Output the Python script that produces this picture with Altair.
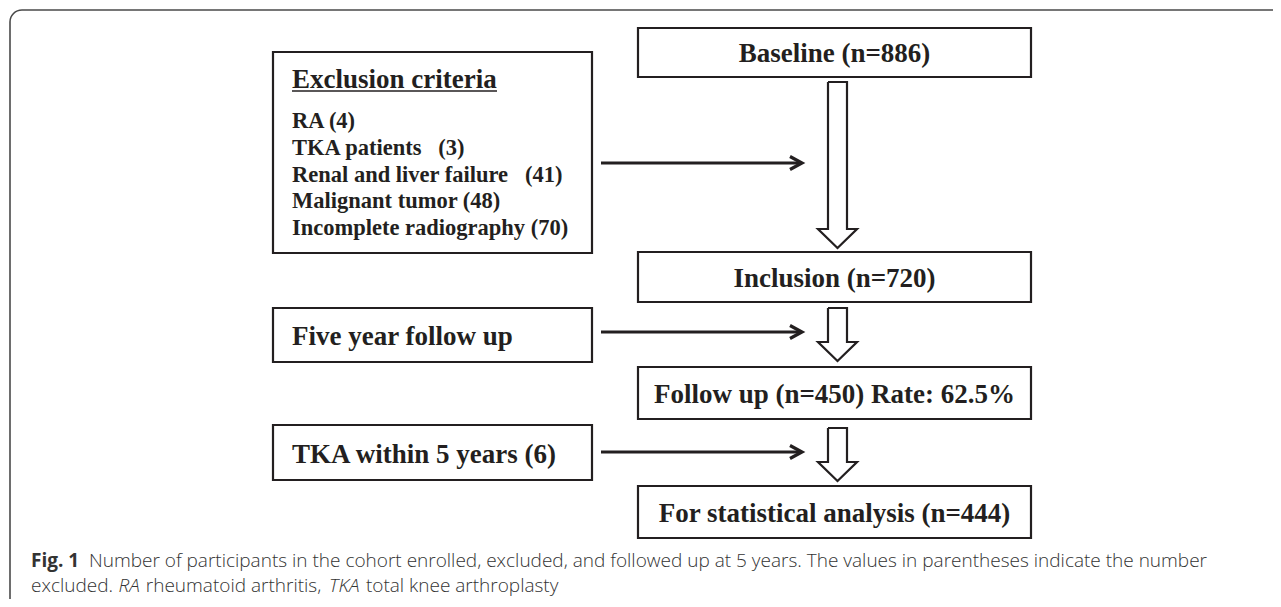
import altair as alt
import pandas as pd

# ---------------- content ----------------
main_steps = ["Baseline (n=886)", "Inclusion (n=720)",
              "Follow up (n=450) Rate: 62.5%", "For statistical analysis (n=444)"]
side_steps = ["Five year follow up", "TKA within 5 years (6)"]
excl_title = "Exclusion criteria"
excl_names = ["RA", "TKA patients\u00a0\u00a0", "Renal and liver failure\u00a0\u00a0",
              "Malignant tumor", "Incomplete radiography"]
excl_counts = [4, 3, 41, 48, 70]
cap1_bold = "Fig. 1"
cap1_rest = ("Number of participants in the cohort enrolled, excluded, and followed up at 5 years. "
             "The values in parentheses indicate the number")
cap2_parts = ["excluded.", "RA", "rheumatoid arthritis,", "TKA", "total knee arthroplasty"]
cap2_italic = [False, True, False, True, False]

# ---------------- layout (page pixel coordinates) ----------------
W, H = 1265, 591
OX, OY = 8, 8
xs = alt.Scale(domain=[OX, OX + W], nice=False, zero=False)
ys = alt.Scale(domain=[OY, OY + H], nice=False, zero=False, reverse=True)
INK = "#231f20"

RIGHT = (638, 1031)
LEFT = (273, 592)
main_y = [(28, 77), (252, 302), (367, 419), (486, 538)]
side_y = [(308, 362), (425, 480)]
excl_box = (52, 253)


def X(f="x"):
    return alt.X(f"{f}:Q", scale=xs, axis=None)


def Y(f="y"):
    return alt.Y(f"{f}:Q", scale=ys, axis=None)


# approximate Open Sans advance widths (units of 1/2048 em) for caption run placement
_OS = {" ": 532, "a": 1139, "b": 1255, "c": 975, "d": 1255, "e": 1149, "f": 694, "g": 1122,
       "h": 1257, "i": 518, "k": 1075, "l": 518, "m": 1905, "n": 1257, "o": 1237, "p": 1255,
       "r": 836, "s": 977, "t": 723, "u": 1257, "y": 1028, ",": 502, ".": 545,
       "R": 1260, "A": 1230, "T": 1145, "K": 1180}


def run_width(s, size, light=0.97):
    return sum(_OS.get(ch, 1100) for ch in s) / 2048 * size * light


# outer frame (only top/left visible in the crop)
frame_df = pd.DataFrame([{"x": 10, "x2": 1320, "y": 10, "y2": 660}])
frame = alt.Chart(frame_df).mark_rect(
    fill="transparent", stroke="#4a4a4a", strokeWidth=1.6, cornerRadius=12, clip=True
).encode(x=X(), x2="x2:Q", y=Y(), y2="y2:Q")

# boxes
rows = []
for (y0, y1) in main_y:
    rows.append({"x": RIGHT[0], "x2": RIGHT[1], "y": y0, "y2": y1})
for (y0, y1) in side_y:
    rows.append({"x": LEFT[0], "x2": LEFT[1], "y": y0, "y2": y1})
rows.append({"x": LEFT[0], "x2": LEFT[1], "y": excl_box[0], "y2": excl_box[1]})
boxes = alt.Chart(pd.DataFrame(rows)).mark_rect(
    fill="white", stroke=INK, strokeWidth=2.2
).encode(x=X(), x2="x2:Q", y=Y(), y2="y2:Q")

# horizontal arrows (side box -> main flow)
h_y = [163, 332, 452]
x_start, x_tip = LEFT[1] + 9, 802
pts = []
for i, yy in enumerate(h_y):
    pts += [{"x": x_start, "y": yy, "g": f"s{i}", "o": 0},
            {"x": x_tip - 1, "y": yy, "g": f"s{i}", "o": 1}]
    pts += [{"x": x_tip - 12, "y": yy - 6.5, "g": f"h{i}", "o": 0},
            {"x": x_tip, "y": yy, "g": f"h{i}", "o": 1},
            {"x": x_tip - 12, "y": yy + 6.5, "g": f"h{i}", "o": 2}]
harrows = alt.Chart(pd.DataFrame(pts)).mark_line(
    color=INK, strokeWidth=3.2, strokeJoin="miter", strokeCap="butt"
).encode(x=X(), y=Y(), detail="g:N", order="o:Q")

# hollow down arrows
cx, sw, hw = 837.5, 9.5, 19.5
v_arrows = [(main_y[0][1] + 5, 229, main_y[1][0] - 4),
            (main_y[1][1] + 6, 342, main_y[2][0] - 6),
            (main_y[2][1] + 9, 462, main_y[3][0] - 5)]
vp = []
for i, (top, base, tip) in enumerate(v_arrows):
    shape = [(cx - sw, top), (cx + sw, top), (cx + sw, base), (cx + hw, base),
             (cx, tip), (cx - hw, base), (cx - sw, base), (cx - sw, top)]
    for k, (a, b) in enumerate(shape):
        vp.append({"x": a, "y": b, "g": f"v{i}", "o": k})
varrows = alt.Chart(pd.DataFrame(vp)).mark_line(
    color=INK, strokeWidth=2.2, strokeJoin="miter"
).encode(x=X(), y=Y(), detail="g:N", order="o:Q")

# main texts
mt = pd.DataFrame([{"x": (RIGHT[0] + RIGHT[1]) / 2, "y": (a + b) / 2 + 9.5, "t": t}
                   for t, (a, b) in zip(main_steps, main_y)])
main_text = alt.Chart(mt).mark_text(
    align="center", baseline="alphabetic", font="Liberation Serif",
    fontWeight="bold", fontSize=27, color=INK
).encode(x=X(), y=Y(), text="t:N")

st = pd.DataFrame([{"x": 292, "y": (a + b) / 2 + 10, "t": t}
                   for t, (a, b) in zip(side_steps, side_y)])
side_text = alt.Chart(st).mark_text(
    align="left", baseline="alphabetic", font="Liberation Serif",
    fontWeight="bold", fontSize=27, color=INK
).encode(x=X(), y=Y(), text="t:N")

# exclusion box content
title_df = pd.DataFrame([{"x": 292, "y": 88, "t": excl_title}])
title_text = alt.Chart(title_df).mark_text(
    align="left", baseline="alphabetic", font="Liberation Serif",
    fontWeight="bold", fontSize=27, color=INK
).encode(x=X(), y=Y(), text="t:N")
ul = alt.Chart(pd.DataFrame([{"x": 292, "x2": 497, "y": 91}])).mark_rule(
    color=INK, strokeWidth=1.6
).encode(x=X(), x2="x2:Q", y=Y())

items = pd.DataFrame([{"x": 292, "y": 128 + 26.8 * i, "t": f"{n} ({c})"}
                      for i, (n, c) in enumerate(zip(excl_names, excl_counts))])
item_text = alt.Chart(items).mark_text(
    align="left", baseline="alphabetic", font="Liberation Serif",
    fontWeight="bold", fontSize=22.5, color=INK
).encode(x=X(), y=Y(), text="t:N")

# caption
CAP_FONT = "Open Sans"
CAP_SIZE = 19
CAP_COLOR = "#333333"
cap_x0 = 31
cap_y1, cap_y2 = 567, 592

c1b = alt.Chart(pd.DataFrame([{"x": cap_x0, "y": cap_y1, "t": cap1_bold}])).mark_text(
    align="left", baseline="alphabetic", font=CAP_FONT, fontWeight="bold",
    fontSize=CAP_SIZE, color=CAP_COLOR
).encode(x=X(), y=Y(), text="t:N")
c1r = alt.Chart(pd.DataFrame([{"x": cap_x0 + 58, "y": cap_y1, "t": cap1_rest}])).mark_text(
    align="left", baseline="alphabetic", font=CAP_FONT, fontWeight=300,
    fontSize=CAP_SIZE, color=CAP_COLOR
).encode(x=X(), y=Y(), text="t:N")

c2_rows = []
xpos = cap_x0
for t, it in zip(cap2_parts, cap2_italic):
    c2_rows.append({"x": xpos, "y": cap_y2, "t": t, "s": "italic" if it else "normal"})
    xpos += run_width(t, CAP_SIZE) + run_width(" ", CAP_SIZE)
c2 = pd.DataFrame(c2_rows)
c2n = alt.Chart(c2[c2.s == "normal"]).mark_text(
    align="left", baseline="alphabetic", font=CAP_FONT, fontWeight=300,
    fontSize=CAP_SIZE, color=CAP_COLOR
).encode(x=X(), y=Y(), text="t:N")
c2i = alt.Chart(c2[c2.s == "italic"]).mark_text(
    align="left", baseline="alphabetic", font=CAP_FONT, fontWeight=300,
    fontStyle="italic", fontSize=CAP_SIZE, color=CAP_COLOR
).encode(x=X(), y=Y(), text="t:N")

chart = alt.layer(
    frame, boxes, harrows, varrows, main_text, side_text, title_text, ul,
    item_text, c1b, c1r, c2n, c2i
).properties(
    width=W, height=H, padding=0, autosize=alt.AutoSizeParams(type="none")
).configure_view(strokeWidth=0)

chart.save("out.html", embed_options={"renderer": "svg", "actions": False})
